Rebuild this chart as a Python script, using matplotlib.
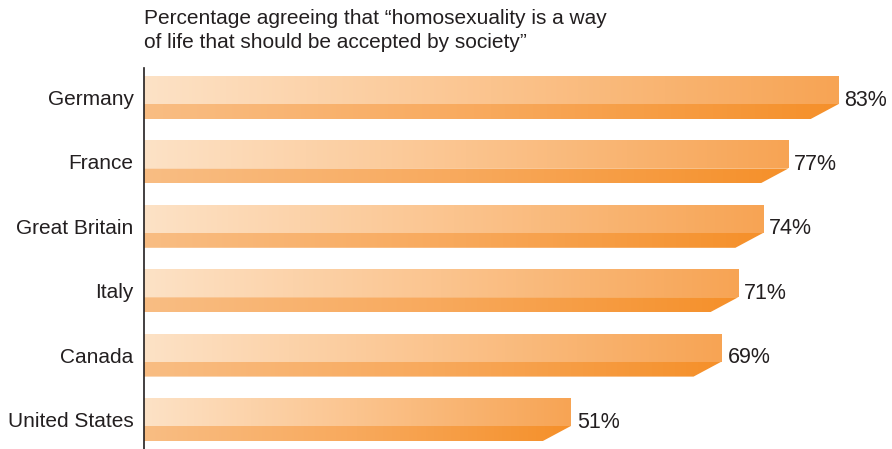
import numpy as np
import matplotlib.pyplot as plt
from matplotlib.patches import Polygon, Rectangle
from matplotlib.colors import LinearSegmentedColormap

countries = ["Germany", "France", "Great Britain", "Italy", "Canada", "United States"]
agree_pct = [83, 77, 74, 71, 69, 51]

title = "Percentage agreeing that \u201chomosexuality is a way\nof life that should be accepted by society\u201d"

# gradient colours: upper face and lower (shaded) face of each bar
top_cmap = LinearSegmentedColormap.from_list("top", ["#fde2c6", "#fbc48e", "#f7a454"])
low_cmap = LinearSegmentedColormap.from_list("low", ["#f9bd83", "#f8a95c", "#f5902a"])

W, H = 892, 449
fig = plt.figure(figsize=(W / 100, H / 100), dpi=100)
plt.rcParams["font.family"] = ["Liberation Sans", "DejaVu Sans"]

px_per_unit = 8.37
x0 = 144
spacing = 64.4
ax_top, ax_bot = 68, 449
ax = fig.add_axes([x0 / W, 0, 1 - x0 / W, (ax_bot - ax_top) / H])
pad = (ax_bot - ax_top - 5 * spacing) / 2 / spacing

bar_h = 43 / spacing
top_frac = 28 / 43
bevel = 28 / px_per_unit
grad = np.linspace(0, 1, 256).reshape(1, -1)

for i, (name, v) in enumerate(zip(countries, agree_pct)):
    top = i - bar_h / 2
    split = top + bar_h * top_frac
    bottom = i + bar_h / 2
    # upper face
    rect = Rectangle((0, top), v, split - top, transform=ax.transData)
    im = ax.imshow(grad, cmap=top_cmap, aspect="auto", extent=[0, v, split, top],
                   interpolation="bilinear")
    im.set_clip_path(rect)
    # lower face with bevelled end
    poly = Polygon([(0, split), (v, split), (v - bevel, bottom), (0, bottom)],
                   closed=True, transform=ax.transData)
    im2 = ax.imshow(grad, cmap=low_cmap, aspect="auto", extent=[0, v, bottom, split],
                    interpolation="bilinear")
    im2.set_clip_path(poly)
    ax.text(v + 0.7, i, f"{v}%", va="center_baseline", ha="left", fontsize=15.5,
            color="#231f20")

ax.set_xlim(0, (W - x0) / px_per_unit)
ax.set_ylim(len(countries) - 1 + pad, -pad)
ax.set_yticks(range(len(countries)))
ax.set_yticklabels(countries, fontsize=15, color="#231f20", va="center_baseline")
ax.tick_params(axis="y", length=0, pad=7.5)
ax.set_xticks([])
for s in ["top", "right", "bottom"]:
    ax.spines[s].set_visible(False)
ax.spines["left"].set_linewidth(1.2)
ax.spines["left"].set_color("#231f20")

fig.text(x0 / W, 1 - 9 / H, title, ha="left", va="top", fontsize=15,
         color="#231f20", linespacing=1.3)

fig.savefig("out.png", dpi=100)
